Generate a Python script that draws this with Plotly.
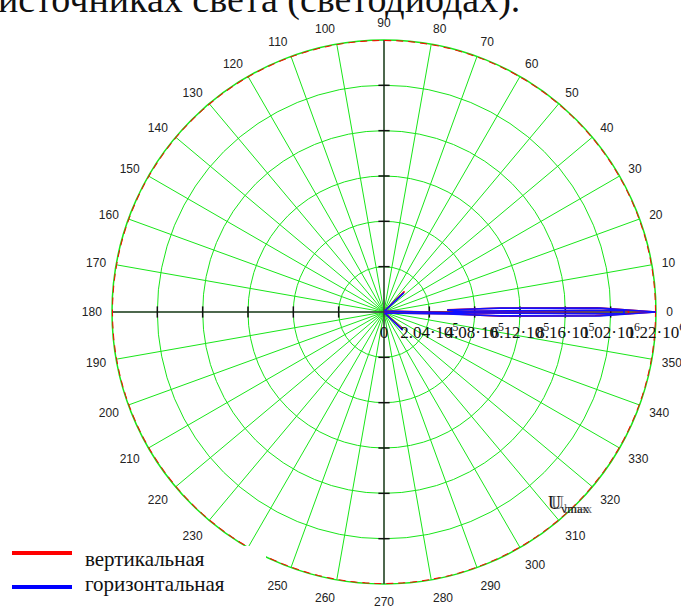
import plotly.graph_objects as go

# ---- data -------------------------------------------------------------
# radial scale (six rings)
ring_values = [0, 2.04e5, 4.08e5, 6.12e5, 8.16e5, 1.02e6, 1.224e6]
ring_labels = ["0", "2.04·10<sup>5</sup>", "4.08·10<sup>5</sup>", "6.12·10<sup>5</sup>",
               "8.16·10<sup>5</sup>", "1.02·10<sup>6</sup>", "1.22·10<sup>6</sup>"]
angle_ticks = list(range(0, 360, 10))
angle_labels = [str(a) for a in angle_ticks]

# vertical plane pattern (deg, value)
theta_vert = [-43, -60, -1.5, -2.0, -1.0, 0, 1.1, 1.95, 2.0, 0.5, 0.4, -0.4, -0.5, 60, 45]
r_vert = [1.15e5, 5e3, 2.9e5, 5.3e5, 9.5e5, 1.224e6, 9.6e5, 5.3e5, 2.85e5, 3.2e5,
          1.1e6, 1.1e6, 3.2e5, 5e3, 1.31e5]

# horizontal plane pattern (deg, value)
theta_horiz = [-44, -60, -1.8, -1.9, -1.05, 0, 1.05, 1.9, 1.8, 0.6, 0.45, -0.45, -0.6, 60, 44]
r_horiz = [1.17e5, 5e3, 2.84e5, 5.22e5, 9.72e5, 1.224e6, 9.72e5, 5.22e5, 2.84e5, 3.15e5,
           1.08e6, 1.08e6, 3.15e5, 5e3, 1.24e5]

# maximum level circle
u_max = 1.224e6
theta_circle = list(range(0, 361, 2))

# ---- figure -----------------------------------------------------------
W, H = 681, 606
GREEN = "#19e619"
AXIS = "#3a3a3a"
SERIF = "Liberation Serif"
SANS = "Liberation Sans"

fig = go.Figure()

# coordinate cross through the pole
fig.add_trace(go.Scatterpolar(theta=[180, 0, 0], r=[u_max, 0, u_max], mode="lines",
                              line=dict(color=AXIS, width=1.5), hoverinfo="skip", showlegend=False))
fig.add_trace(go.Scatterpolar(theta=[90, 0, 270], r=[u_max, 0, u_max], mode="lines",
                              line=dict(color=AXIS, width=1.5), hoverinfo="skip", showlegend=False))
# ring tick marks on the cross
rings = ring_values[1:-1]
fig.add_trace(go.Scatterpolar(theta=[0] * len(rings) + [180] * len(rings), r=rings + rings,
                              mode="markers",
                              marker=dict(symbol="line-ns", size=8, line=dict(color="#111", width=1.5)),
                              hoverinfo="skip", showlegend=False))
fig.add_trace(go.Scatterpolar(theta=[90] * len(rings) + [270] * len(rings), r=rings + rings,
                              mode="markers",
                              marker=dict(symbol="line-ew", size=8, line=dict(color="#111", width=1.5)),
                              hoverinfo="skip", showlegend=False))

# maximum level
fig.add_trace(go.Scatterpolar(theta=theta_circle, r=[u_max] * len(theta_circle), mode="lines",
                              line=dict(color="#ff0000", width=2, dash="7px,5px"),
                              name="U<sub>max</sub>", showlegend=False))

# patterns
fig.add_trace(go.Scatterpolar(theta=theta_vert, r=r_vert, mode="lines",
                              line=dict(color="#ff0000", width=1.6), name="вертикальная",
                              showlegend=False))
fig.add_trace(go.Scatterpolar(theta=theta_horiz, r=r_horiz, mode="lines",
                              line=dict(color="#1010ff", width=1.6), name="горизонтальная",
                              showlegend=False))

cx, cy, R = 384, 312, 272
fig.update_layout(
    width=W, height=H, margin=dict(l=0, r=0, t=0, b=0),
    paper_bgcolor="white", plot_bgcolor="white",
    polar=dict(
        domain=dict(x=[(cx - R) / W, (cx + R) / W], y=[(H - cy - R) / H, (H - cy + R) / H]),
        bgcolor="white",
        angularaxis=dict(
            direction="counterclockwise", rotation=0, layer="below traces",
            tickmode="array", tickvals=angle_ticks, ticktext=angle_labels,
            showline=True, linecolor=GREEN, linewidth=1.5,
            showgrid=True, gridcolor=GREEN, gridwidth=1.3,
            ticks="outside", ticklen=7, tickcolor="rgba(0,0,0,0)",
            tickfont=dict(family=SANS, size=12, color="#222"),
        ),
        radialaxis=dict(
            range=[0, u_max], angle=0, tickangle=0,
            tickmode="array", tickvals=ring_values, ticktext=ring_labels,
            showline=False, ticks="outside", ticklen=5, tickcolor="rgba(0,0,0,0)",
            showgrid=True, gridcolor=GREEN, gridwidth=1.3,
            tickfont=dict(family=SERIF, size=17, color="#111"),
        ),
    ),
)

# caption line of the surrounding text
fig.add_annotation(xref="paper", yref="paper", x=-4 / W, y=1 - 23 / H,
                   xanchor="left", yanchor="bottom", showarrow=False,
                   text="источниках света (светодиодах).",
                   font=dict(family=SERIF, size=38, color="#111"))

# axis label of the traces
fig.add_annotation(xref="paper", yref="paper", x=546 / W, y=1 - 518 / H,
                   xanchor="left", yanchor="bottom", showarrow=False,
                   text="U<sub>vmax</sub>", font=dict(family=SERIF, size=18, color="#111"))
fig.add_annotation(xref="paper", yref="paper", x=549 / W, y=1 - 518 / H,
                   xanchor="left", yanchor="bottom", showarrow=False,
                   text="U<sub>hmax</sub>", font=dict(family=SERIF, size=18, color="#333"),
                   opacity=0.7)

# legend panel
fig.add_shape(type="rect", xref="paper", yref="paper", x0=0, x1=266 / W, y0=0, y1=1 - 546 / H,
              fillcolor="white", line=dict(width=0), layer="above")
legend_rows = [("вертикальная", "#ff0000", 553, 559), ("горизонтальная", "#0000ff", 587, 584)]
for label, color, ly, ty in legend_rows:
    fig.add_shape(type="line", xref="paper", yref="paper", x0=12 / W, x1=72 / W,
                  y0=1 - ly / H, y1=1 - ly / H, line=dict(color=color, width=4), layer="above")
    fig.add_annotation(xref="paper", yref="paper", x=83 / W, y=1 - ty / H,
                       xanchor="left", yanchor="middle", showarrow=False, text=label,
                       font=dict(family=SERIF, size=21, color="#111"))

fig.write_html("out.html")
